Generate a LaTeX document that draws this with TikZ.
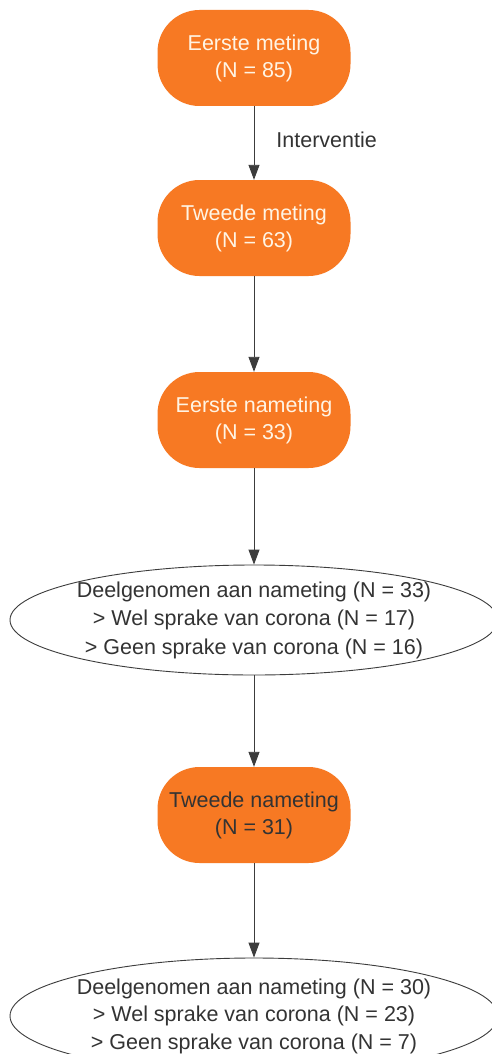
\documentclass[tikz,border=0pt]{standalone}
\usepackage{fontspec}
\setmainfont{Liberation Sans}
\usetikzlibrary{shapes.geometric,arrows.meta}
\definecolor{boxorange}{RGB}{247,121,35}
\definecolor{lighttext}{RGB}{255,244,228}
\definecolor{darktext}{RGB}{51,51,51}
\definecolor{linegray}{RGB}{60,60,60}
\tikzset{
  stadium/.style={draw=none, fill=boxorange, rounded corners=42pt, minimum width=193pt, minimum height=96pt, align=center, inner sep=0pt, font=\fontsize{21.5}{27}\selectfont},
  oval/.style={ellipse, draw=linegray, line width=0.9pt, fill=white, minimum width=488pt, minimum height=110pt, inner xsep=-8pt, inner ysep=-6pt, align=center, text=darktext, font=\fontsize{21.5}{28.5}\selectfont},
  flow/.style={draw=linegray, line width=0.9pt, -{Triangle[length=15pt,width=11pt]}}
}
\begin{document}
\begin{tikzpicture}[x=1pt,y=-1pt]
\useasboundingbox[fill=white] (0,0) rectangle (491,1054);
\node[stadium, text=lighttext] (n1) at (254,58) {Eerste meting\\(N = 85)};
\node[stadium, text=lighttext] (n2) at (254,228) {Tweede meting\\(N = 63)};
\node[stadium, text=lighttext] (n3) at (254,420) {Eerste nameting\\(N = 33)};
\node[oval] (e1) at (254,620) {Deelgenomen aan nameting (N = 33)\\> Wel sprake van corona (N = 17)\\> Geen sprake van corona (N = 16)};
\node[stadium, text=darktext] (n4) at (254,815) {Tweede nameting\\(N = 31)};
\node[oval, minimum height=116pt, font=\fontsize{21.5}{27.5}\selectfont] (e2) at (254,1016) {Deelgenomen aan nameting (N = 30)\\> Wel sprake van corona (N = 23)\\> Geen sprake van corona (N = 7)};
\draw[flow] (n1) -- node[pos=0.45, anchor=west, inner sep=0pt, xshift=22pt, text=darktext, font=\fontsize{21.5}{24}\selectfont] {Interventie} (n2);
\draw[flow] (n2) -- (n3);
\draw[flow] (n3) -- (e1);
\draw[flow] (e1) -- (n4);
\draw[flow] (n4) -- (e2);
\end{tikzpicture}
\end{document}
